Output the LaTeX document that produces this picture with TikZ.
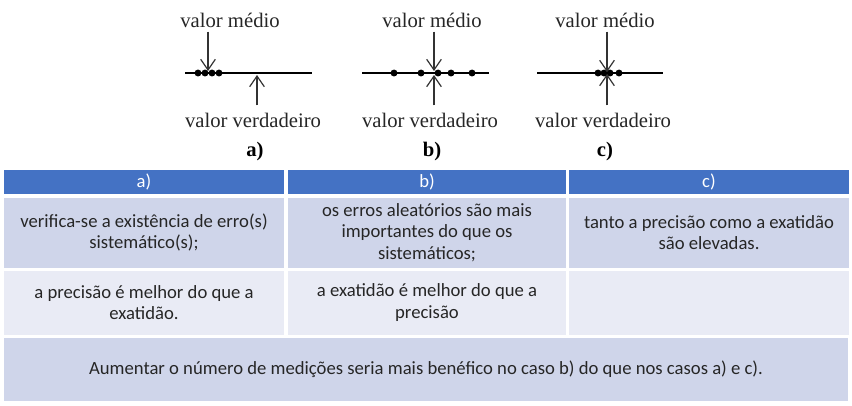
\documentclass[tikz,border=0pt]{standalone}
\usepackage{fontspec}
\setmainfont{Carlito}
\newfontfamily\capfont{Liberation Serif}
\usetikzlibrary{arrows.meta,positioning}
\definecolor{headblue}{HTML}{4472C4}
\definecolor{rowdark}{HTML}{CFD5EA}
\definecolor{rowlight}{HTML}{E9EBF5}
\definecolor{inkgray}{HTML}{333333}

\begin{document}
\begin{tikzpicture}[
        x=0.75pt, y=-0.75pt,
        every node/.style={inner sep=0pt},
        caption/.style={font=\capfont\fontsize{15.5}{17}\selectfont, text=black!85},
        casename/.style={font=\capfont\bfseries\fontsize{15.5}{17}\selectfont},
        axisline/.style={line width=1.6pt, black},
        pointer/.style={-{Straight Barb[length=8pt, width=11pt]}, line width=0.9pt, inkgray},
        cell/.style={draw=white, line width=1.5pt, align=center, font=\fontsize{14}{16}\selectfont, text=black!85},
        head/.style={cell, fill=headblue, text=white, minimum height=19.5pt},
        colwide/.style={minimum width=211.5pt},
        colmid/.style={minimum width=210pt}
    ]
        \useasboundingbox (0,0) rectangle (852,405);

        % Case a)
        \node[caption] (mediaA) at (230,20) {valor médio};
        \node[caption] (verdA) at (253,120) {valor verdadeiro};
        \node[casename] (caseA) at (255,152) {a)};
        \coordinate (lineAl) at (185,73);
        \coordinate (lineAr) at (312,73);
        \coordinate (meanA) at (208,71);
        \coordinate (trueA) at (257,75);
        \draw[axisline] (lineAl) -- (lineAr);
        \foreach \x in {198,205,212,219} \fill (\x,73) circle[radius=2.6pt];
        \draw[pointer] (meanA |- mediaA.south) ++(0,4) -- (meanA);
        \draw[pointer] (trueA |- verdA.north) ++(0,-7) -- (trueA);

        % Case b)
        \node[caption] (mediaB) at (432,20) {valor médio};
        \node[caption] (verdB) at (430,120) {valor verdadeiro};
        \node[casename] (caseB) at (432,152) {b)};
        \coordinate (lineBl) at (362,73);
        \coordinate (lineBr) at (489,73);
        \coordinate (meanB) at (434,71);
        \coordinate (trueB) at (434,75);
        \draw[axisline] (lineBl) -- (lineBr);
        \foreach \x in {394,421,438,451,472} \fill (\x,73) circle[radius=2.6pt];
        \draw[pointer] (meanB |- mediaB.south) ++(0,4) -- (meanB);
        \draw[pointer] (trueB |- verdB.north) ++(0,-7) -- (trueB);

        % Case c)
        \node[caption] (mediaC) at (605,20) {valor médio};
        \node[caption] (verdC) at (603,120) {valor verdadeiro};
        \node[casename] (caseC) at (605,152) {c)};
        \coordinate (lineCl) at (537,73);
        \coordinate (lineCr) at (663,73);
        \coordinate (meanC) at (607,72);
        \coordinate (trueC) at (607,74);
        \draw[axisline] (lineCl) -- (lineCr);
        \foreach \x in {598,604,610,619} \fill (\x,73) circle[radius=2.6pt];
        \draw[pointer] (meanC |- mediaC.south) ++(0,4) -- (meanC);
        \draw[pointer] (trueC |- verdC.north) ++(0,-7) -- (trueC);

        % Table header
        \node[head, colwide] (headA) at (144,182) {a)};
        \node[head, colmid] (headB) at (427,182) {b)};
        \node[head, colwide] (headC) at (709,182) {c)};

        % First row
        \node[cell, colwide, fill=rowdark, minimum height=54pt] (rowA1) at (144,232.5) {verifica-se a existência de erro(s)\\sistemático(s);};
        \node[cell, colmid, fill=rowdark, minimum height=54pt] (rowB1) at (427,232.5) {os erros aleatórios são mais\\importantes do que os\\sistemáticos;};
        \node[cell, colwide, fill=rowdark, minimum height=54pt] (rowC1) at (709,232.5) {tanto a precisão como a exatidão\\são elevadas.};

        % Second row
        \node[cell, colwide, fill=rowlight, minimum height=49.5pt] (rowA2) at (144,302.5) {a precisão é melhor do que a\\exatidão.};
        \node[cell, colmid, fill=rowlight, minimum height=49.5pt] (rowB2) at (427,302.5) {a exatidão é melhor do que a\\precisão};
        \node[cell, colwide, fill=rowlight, minimum height=49.5pt] (rowC2) at (709,302.5) {};

        % Conclusion row
        \node[cell, fill=rowdark, minimum width=634.5pt, minimum height=48.75pt] (summary) at (426,369) {Aumentar o número de medições seria mais benéfico no caso b) do que nos casos a) e c).};
    \end{tikzpicture}
\end{document}
